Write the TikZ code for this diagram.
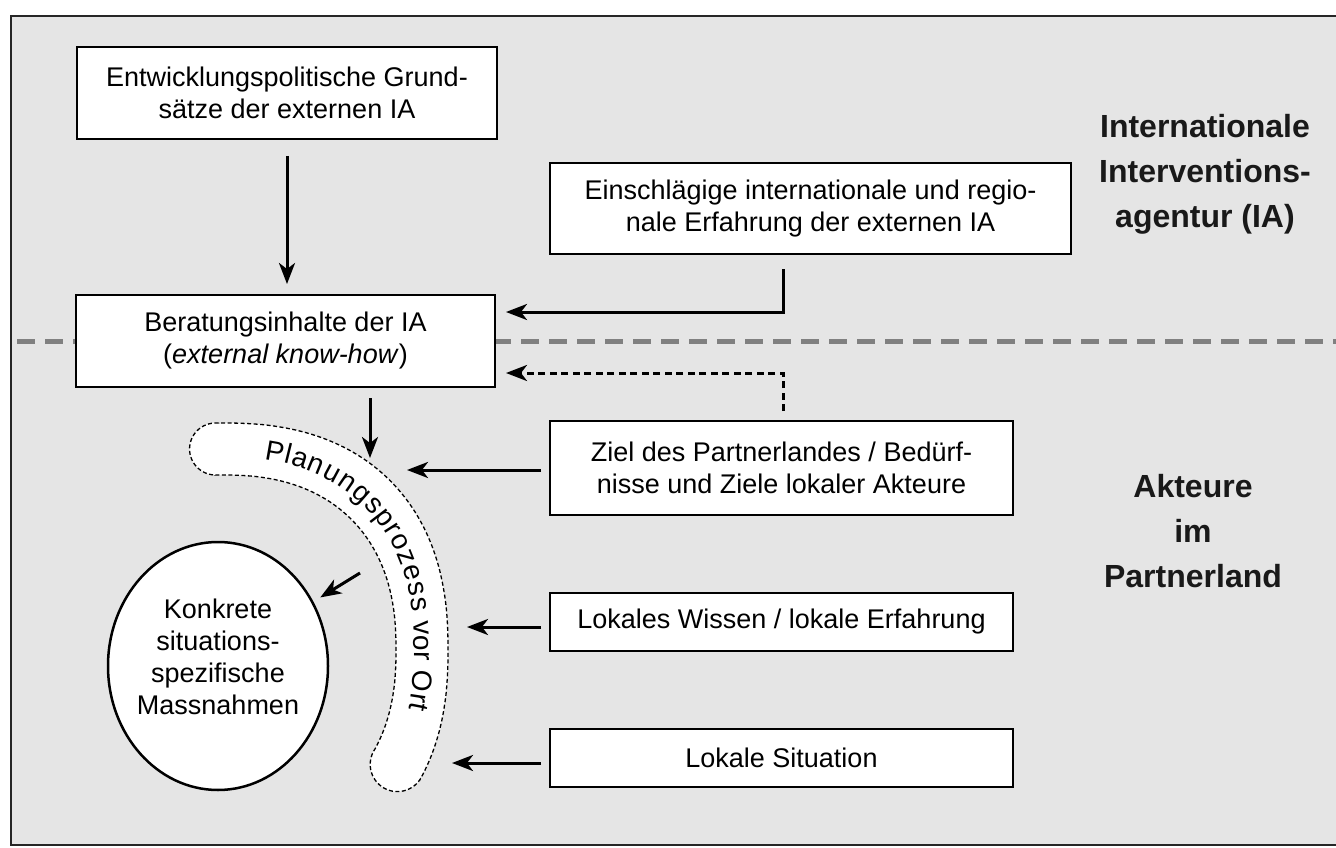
\documentclass[tikz,border=0pt]{standalone}
\usepackage{fontspec}
\setmainfont{Liberation Sans}
\usetikzlibrary{arrows.meta,shapes.geometric,decorations.text}

\begin{document}
\begin{tikzpicture}[x=1pt,y=-1pt,
  declare function={spx(\x)=sign(cos(\x))*(abs(cos(\x))+0.00001)^0.85;
                    spy(\x)=sign(sin(\x))*(abs(sin(\x))+0.00001)^0.85;},
  frame/.style={draw=black!85, line width=2.5pt},
  box/.style={draw=black, line width=2pt, fill=white, align=center, inner sep=0pt,
              font=\fontsize{27}{32}\selectfont},
  side/.style={align=center, inner sep=0pt, font=\bfseries\fontsize{32}{45}\selectfont, text=black!90},
  arr/.style={line width=3pt, -{Stealth[length=21pt,width=16pt,inset=6pt]}},
  darr/.style={arr, dash pattern=on 7pt off 4.5pt},
  sepline/.style={draw=black!50, line width=5pt, dash pattern=on 18pt off 10pt},
  band/.style={draw=black, line width=1.3pt, dash pattern=on 4pt off 2.5pt, fill=white},
  ellbox/.style={draw=black, line width=2.5pt, fill=white, ellipse, inner sep=0pt,
                 minimum width=220pt, minimum height=248pt},
  plain/.style={align=center, inner sep=0pt, font=\fontsize{27}{32}\selectfont}
]
\useasboundingbox (0,0) rectangle (1336,848);
\fill[white] (0,0) rectangle (1336,848);
% outer frame
\fill[black!10] (11,16) rectangle (1336,845);
\draw[frame] (1336,16) -- (11,16) -- (11,845) -- (1336,845);

% separating dashed line
\coordinate (sepL) at (17,341);
\coordinate (sepR) at (1336,341);
\draw[sepline] (sepL) -- (sepR);

% boxes
\node[box, minimum width=420pt, minimum height=92pt] (b1) at (287,93)
  {Entwicklungspolitische Grund-\\sätze der externen IA};
\node[box, minimum width=521pt, minimum height=91pt] (b2) at (810.5,208.5)
  {Einschlägige internationale und regio-\\nale Erfahrung der externen IA};
\node[box, minimum width=419pt, minimum height=92pt] (b3) at (285.5,341)
  {Beratungsinhalte der IA\\(\textit{external know-how})};
\node[box, minimum width=463pt, minimum height=94pt] (b4) at (781.5,468)
  {Ziel des Partnerlandes / Bedürf-\\nisse und Ziele lokaler Akteure};
\node[box, minimum width=463pt, minimum height=58pt] (b5) at (781.5,622)
  {Lokales Wissen / lokale Erfahrung};
\node[box, minimum width=463pt, minimum height=58pt] (b6) at (781.5,757.5)
  {Lokale Situation};

% side labels
\node[side] (ia) at (1205,174) {Internationale\\Interventions-\\agentur (IA)};
\node[side] (pl) at (1193,531) {Akteure\\im\\Partnerland};

% planning band
\draw[band]
  plot[domain=-91:31,samples=90] ({222+226*spx(\x)},{650+227*spy(\x)})
  -- plot[domain=32.8:212.8,samples=30] ({397.4+27.2*cos(\x)},{764.4+27.2*sin(\x)})
  -- plot[domain=31:-91,samples=90] ({222+174*spx(\x)},{650+175*spy(\x)})
  -- plot[domain=88.1:268.1,samples=30] ({215.55+26*cos(\x)},{449+26*sin(\x)})
  -- cycle;
\path[decorate, decoration={text along path, raise=13pt, text align=center,
      text={|\fontsize{28}{32}\selectfont|Planungsprozess vor Ort}}]
  plot[domain=-93:33,samples=90] ({222+179*spx(\x)},{650+180*spy(\x)});

% ellipse
\node[ellbox] (ell) at (218,666) {};
\node[plain] (elltext) at (218,657) {Konkrete\\situations-\\spezifische\\Massnahmen};

% band anchor points
\coordinate (p3) at (370,458);
\coordinate (p4) at (407,470);
\coordinate (p5) at (467,627);
\coordinate (p6) at (452,763);
\coordinate (p7) at (360,573);

% connectors
\draw[arr, shorten <=16pt, shorten >=10pt] (b1.south) -- (b1.south |- b3.north);
\draw[arr, shorten >=10pt] ([xshift=-27.5pt,yshift=-14pt]b2.south) |- ([yshift=29pt]b3.east);
\draw[darr, shorten >=10pt] ([xshift=1.5pt,yshift=9pt]b4.north) |- ([yshift=-32pt]b3.east);
\draw[arr] ([xshift=84.5pt,yshift=-10pt]b3.south) -- (p3);
\draw[arr, shorten <=8pt] ([yshift=-2pt]b4.west) -- (p4);
\draw[arr, shorten <=8pt] ([yshift=-5pt]b5.west) -- (p5);
\draw[arr, shorten <=8pt] ([yshift=-5.5pt]b6.west) -- (p6);
\draw[arr, shorten >=8pt] (p7) -- (ell.34.5);
\end{tikzpicture}
\end{document}
